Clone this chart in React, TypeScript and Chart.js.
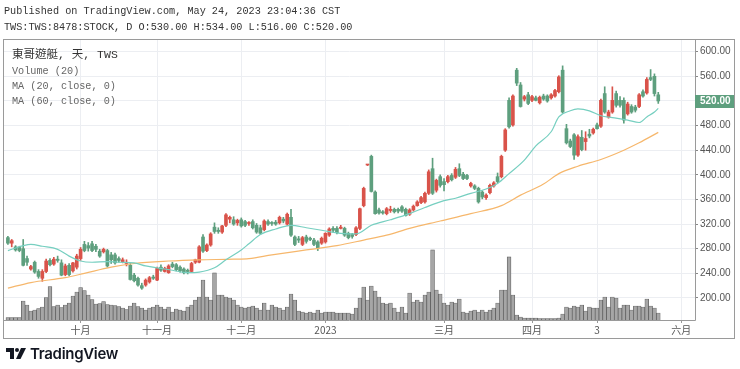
import React, { useEffect, useRef } from 'react';
import { Chart, registerables } from 'chart.js';

Chart.register(...registerables);

// Trading days (Sep 2022 – May 2023), one entry per candle
const sepDays = [5, 6, 7, 8, 12, 13, 14, 15, 16, 19, 20, 21, 22, 23, 26, 27, 28, 29, 30];
const octDays = [3, 4, 5, 6, 7, 11, 12, 13, 14, 17, 18, 19, 20, 21, 24, 25, 26, 27, 28, 31];
const novDays = [1, 2, 3, 4, 7, 8, 9, 10, 11, 14, 15, 16, 17, 18, 21, 22, 23, 24, 25, 28, 29, 30];
const decDays = [1, 2, 5, 6, 7, 8, 9, 12, 13, 14, 15, 16, 19, 20, 21, 22, 23, 26, 27, 28, 29, 30];
const janDays = [3, 4, 5, 6, 9, 10, 11, 12, 13, 16, 17, 30, 31];
const febDays = [1, 2, 3, 6, 7, 8, 9, 10, 13, 14, 15, 16, 17, 20, 21, 22, 23, 24];
const marDays = [1, 2, 3, 6, 7, 8, 9, 10, 13, 14, 15, 16, 17, 20, 21, 22, 23, 24, 27, 28, 29, 30, 31];
const aprDays = [6, 7, 10, 11, 12, 13, 14, 17, 18, 19, 20, 21, 24, 25, 26, 27, 28];
const mayDays = [2, 3, 4, 5, 8, 9, 10, 11, 12, 15, 16, 17, 18, 19, 22, 23, 24];

// [open, high, low, close]
const candles: number[][] = [
  [298, 300, 287, 289], [289, 295, 283, 293], [283, 285, 276, 278], [282, 284, 275, 277], [280, 295, 252, 253],
  [264, 268, 253, 258], [247, 253, 245, 251], [258, 260, 240, 242], [243, 246, 232, 235], [232, 246, 227, 243],
  [243, 263, 241, 260], [261, 264, 252, 254], [255, 266, 253, 263], [263, 268, 258, 261], [257, 262, 236, 237],
  [238, 255, 236, 252], [253, 256, 236, 238], [244, 258, 242, 257], [250, 271, 247, 268], [264, 282, 261, 279],
  [287, 292, 275, 277], [285, 290, 276, 281], [288, 292, 275, 277], [284, 287, 275, 279], [276, 279, 266, 268],
  [275, 281, 273, 279], [277, 279, 250, 252], [270, 274, 256, 262], [270, 273, 255, 257], [264, 267, 258, 261],
  [259, 265, 257, 262], [256, 262, 252, 258], [253, 256, 229, 230], [237, 240, 226, 228], [232, 234, 219, 221],
  [220, 224, 214, 216], [221, 231, 219, 229], [226, 235, 224, 233], [234, 237, 230, 232], [229, 250, 228, 248],
  [250, 254, 243, 245], [243, 250, 242, 248], [241, 254, 240, 252], [255, 258, 249, 251], [254, 256, 244, 246],
  [250, 252, 242, 244], [247, 249, 239, 241], [245, 247, 239, 243], [243, 258, 242, 256], [258, 263, 256, 262],
  [258, 285, 257, 283], [299, 303, 274, 276], [277, 288, 275, 286], [286, 306, 284, 304], [315, 322, 305, 308],
  [310, 314, 305, 308], [307, 318, 305, 317], [318, 337, 316, 335], [328, 333, 322, 331], [327, 332, 318, 320],
  [322, 328, 318, 326], [327, 330, 315, 317], [324, 326, 316, 318], [321, 324, 318, 322], [324, 327, 312, 314],
  [318, 321, 305, 307], [314, 318, 303, 305], [311, 327, 309, 325], [324, 327, 318, 320], [322, 324, 318, 321],
  [323, 326, 318, 320], [322, 333, 320, 331], [328, 331, 322, 325], [320, 338, 318, 336], [331, 344, 300, 302],
  [299, 301, 285, 287], [296, 300, 290, 294], [287, 300, 285, 298], [299, 302, 289, 292], [297, 299, 293, 295],
  [294, 297, 285, 287], [291, 293, 277, 281], [289, 299, 287, 297], [291, 306, 289, 305], [302, 314, 300, 312],
  [313, 316, 307, 310], [313, 316, 304, 306], [313, 318, 312, 315], [313, 315, 300, 302], [305, 307, 296, 298],
  [303, 305, 297, 300], [303, 316, 301, 314], [313, 346, 311, 345], [350, 380, 348, 378], [416, 417, 415, 416],
  [430, 432, 372, 373], [372, 374, 336, 337], [343, 346, 336, 338], [340, 342, 336, 338], [337, 347, 335, 345],
  [342, 349, 339, 344], [344, 346, 338, 340], [344, 346, 338, 341], [348, 350, 339, 341], [344, 346, 333, 334],
  [336, 345, 334, 343], [343, 351, 341, 349], [350, 358, 349, 356], [355, 365, 353, 363], [356, 372, 354, 370],
  [370, 408, 368, 405], [410, 427, 368, 370], [375, 393, 372, 391], [397, 400, 380, 383], [389, 394, 374, 384],
  [389, 399, 387, 397], [399, 402, 390, 392], [396, 412, 394, 409], [410, 418, 397, 399], [401, 404, 392, 394],
  [399, 401, 392, 394], [382, 388, 380, 386], [382, 384, 376, 378], [378, 380, 354, 356], [372, 374, 361, 364],
  [363, 369, 360, 367], [371, 385, 369, 383], [382, 389, 380, 387], [397, 403, 387, 389], [397, 432, 395, 430],
  [440, 475, 438, 473], [521, 525, 476, 478], [481, 530, 479, 528], [570, 573, 545, 549], [546, 550, 510, 511],
  [523, 529, 520, 527], [530, 534, 514, 516], [521, 529, 519, 527], [525, 528, 520, 521], [517, 528, 515, 526],
  [528, 531, 521, 523], [528, 530, 518, 520], [525, 532, 523, 530], [528, 539, 526, 537], [535, 561, 533, 559],
  [570, 577, 500, 502], [475, 482, 450, 452], [455, 458, 444, 446], [465, 467, 425, 432], [432, 465, 430, 462],
  [461, 472, 439, 441], [454, 470, 440, 459], [466, 474, 460, 463], [468, 476, 466, 474], [481, 484, 474, 475],
  [479, 523, 477, 521], [532, 543, 500, 502], [494, 505, 492, 502], [502, 543, 500, 521], [532, 536, 510, 513],
  [521, 527, 510, 513], [521, 525, 484, 489], [499, 518, 497, 515], [511, 514, 500, 502], [510, 513, 502, 505],
  [511, 532, 509, 530], [535, 538, 526, 528], [533, 558, 531, 555], [558, 571, 553, 555], [560, 564, 528, 532],
  [530, 534, 516, 520],
];

const volumes = [
  250, 250, 250, 250, 1900, 1500, 900, 1000, 1150, 1300, 2250, 3350, 1350, 1500, 1250, 1500, 1700, 2400, 2800, 3250,
  2950, 2500, 2050, 1600, 1650, 1850, 1550, 1500, 1450, 1350, 1200, 1050, 1400, 1700, 1350, 1200, 1000, 1200, 1300, 1500,
  1300, 1100, 1300, 800, 1100, 1000, 900, 1300, 1500, 2000, 2300, 4000, 2300, 2000, 4700, 2500, 2500, 2300, 2200, 2000,
  1500, 1300, 1200, 1300, 1400, 1200, 1000, 1700, 1000, 1500, 1300, 1200, 1000, 1300, 2600, 2000, 900, 800, 700, 800,
  700, 1000, 700, 800, 800, 800, 700, 700, 700, 700, 600, 1200, 2200, 3300, 2000, 3400, 2900, 2300, 1700, 1600,
  1700, 1200, 800, 1300, 700, 2700, 1800, 2000, 1800, 2500, 2800, 7000, 3000, 2600, 1700, 1500, 1800, 1700, 2100, 800,
  700, 900, 1000, 800, 1000, 800, 1000, 1200, 1700, 3000, 3000, 6300, 2500, 500, 300, 200, 200, 200, 200, 150,
  150, 150, 150, 150, 200, 600, 1300, 1200, 1400, 1300, 1500, 900, 1300, 1200, 1200, 2000, 2300, 1300, 2300, 2200,
  1200, 1500, 1500, 1000, 1400, 1400, 1300, 2100, 1400, 1200, 700,
];

// moving averages: [bar index, value]
const ma20Pts = [
  [0, 277], [6, 287], [9, 284], [13, 279], [16, 268], [19, 260], [22, 258], [26, 259], [29, 258], [33, 257],
  [36, 252], [40, 248], [43, 245], [47, 241], [50, 242], [54, 249], [57, 262], [61, 278], [63, 288], [66, 303],
  [70, 312], [74, 318], [78, 314], [82, 310], [87, 305], [91, 304], [95, 318], [100, 327], [105, 337], [109, 347],
  [114, 358], [117, 362], [121, 370], [125, 377], [128, 386], [131, 402], [135, 424], [138, 447], [142, 470],
  [144, 494], [147, 504], [149, 507], [152, 504], [155, 496], [158, 493], [162, 489], [165, 485], [167, 494],
  [169, 502], [170, 508],
];
const ma60Pts = [
  [0, 216], [6, 225], [15, 233], [20, 240], [27, 250], [33, 256], [42, 260], [50, 262], [59, 263], [63, 264],
  [69, 270], [78, 278], [86, 285], [93, 294], [99, 302], [105, 313], [113, 325], [121, 337], [129, 350],
  [134, 367], [140, 385], [144, 402], [149, 414], [155, 425], [161, 440], [165, 452], [170, 469],
];

const xTickIdx = [19, 39, 61, 83, 114, 137, 154, 176];
const xTickLabels = ['十月', '十一月', '十二月', '2023', '三月', '四月', '3', '六月'];
const yTicks = [200, 240, 280, 320, 360, 400, 440, 480, 520, 560, 600];

const UP = '#d9534a';
const DOWN = '#5e9f7e';
const MONO = '"Liberation Mono", "Noto Sans CJK TC", monospace';

export default function App() {
  const ref = useRef<HTMLCanvasElement>(null);

  useEffect(() => {
    const canvas = ref.current;
    if (!canvas) return;
    const dates = [
      ...sepDays.map((d) => `2022-09-${d}`), ...octDays.map((d) => `2022-10-${d}`),
      ...novDays.map((d) => `2022-11-${d}`), ...decDays.map((d) => `2022-12-${d}`),
      ...janDays.map((d) => `2023-01-${d}`), ...febDays.map((d) => `2023-02-${d}`),
      ...marDays.map((d) => `2023-03-${d}`), ...aprDays.map((d) => `2023-04-${d}`),
      ...mayDays.map((d) => `2023-05-${d}`),
    ];
    const colors = candles.map(([o, , , c]) => (c >= o ? UP : DOWN));
    const last = candles[candles.length - 1];

    const framePlugin = {
      id: 'frame',
      afterDraw(chart: any) {
        const ctx = chart.ctx;
        const a = chart.chartArea;
        ctx.save();
        ctx.strokeStyle = '#9a9a9a';
        ctx.lineWidth = 1;
        ctx.strokeRect(3.5, 39.5, 731, 299);
        ctx.beginPath();
        ctx.moveTo(Math.round(a.right) + 0.5, 39.5);
        ctx.lineTo(Math.round(a.right) + 0.5, Math.round(a.bottom) + 0.5);
        ctx.moveTo(3.5, Math.round(a.bottom) + 0.5);
        ctx.lineTo(Math.round(a.right) + 0.5, Math.round(a.bottom) + 0.5);
        ctx.stroke();
        // last price badge
        const y = chart.scales.y.getPixelForValue(last[3]);
        const col = last[3] >= last[0] ? UP : DOWN;
        ctx.fillStyle = col;
        ctx.fillRect(Math.round(a.right), Math.round(y) - 6, 734 - Math.round(a.right), 13);
        ctx.fillStyle = '#ffffff';
        ctx.font = 'bold 10px "Liberation Sans", Arial, sans-serif';
        ctx.textBaseline = 'middle';
        ctx.textAlign = 'left';
        ctx.fillText(last[3].toFixed(2), Math.round(a.right) + 5, Math.round(y) + 0.5);
        ctx.restore();
      },
    };

    const chart = new Chart(canvas, {
      type: 'bar',
      data: {
        labels: dates,
        datasets: [
          {
            type: 'line', label: 'MA (20, close, 0)', data: ma20Pts.map(([x, y]) => ({ x, y })),
            borderColor: '#76cfc0', borderWidth: 1.2, pointRadius: 0, cubicInterpolationMode: 'monotone',
            yAxisID: 'y', order: 1,
          },
          {
            type: 'line', label: 'MA (60, close, 0)', data: ma60Pts.map(([x, y]) => ({ x, y })),
            borderColor: '#f6b76c', borderWidth: 1.2, pointRadius: 0, cubicInterpolationMode: 'monotone',
            yAxisID: 'y', order: 2,
          },
          {
            type: 'bar', label: 'body', data: candles.map(([o, , , c], i) => ({ x: i, y: [o, c] })),
            backgroundColor: colors, barThickness: 3, minBarLength: 1, grouped: false, yAxisID: 'y', order: 3,
          },
          {
            type: 'bar', label: 'wick', data: candles.map(([, h, l], i) => ({ x: i, y: [l, h] })),
            backgroundColor: colors, barThickness: 1, grouped: false, yAxisID: 'y', order: 4,
          },
          {
            type: 'bar', label: 'Volume', data: volumes.map((v, i) => ({ x: i, y: v })),
            backgroundColor: '#a6a6a6', borderColor: '#5a5a5a', borderWidth: 0.7,
            barPercentage: 1, categoryPercentage: 1, grouped: false, yAxisID: 'yVol', order: 5,
          },
        ] as any,
      },
      options: {
        responsive: false,
        animation: false,
        devicePixelRatio: 1,
        layout: { padding: { left: 4, top: 39, right: 0, bottom: 31 } },
        plugins: { legend: { display: false }, tooltip: { enabled: false } },
        scales: {
          x: {
            type: 'linear', min: -1.02, max: 179.6, offset: false,
            afterBuildTicks: (s: any) => { s.ticks = xTickIdx.map((v) => ({ value: v })); },
            afterFit: (s: any) => { s.height = 18; },
            ticks: {
              autoSkip: false, maxRotation: 0, padding: 1, color: '#555',
              font: { family: '"Noto Sans CJK TC", "Liberation Sans", sans-serif', size: 10 },
              callback: (v: any) => { const k = xTickIdx.indexOf(Number(v)); return k >= 0 ? xTickLabels[k] : ''; },
            },
            grid: { color: '#eceef2', tickColor: '#999', tickLength: 3, offset: false },
            border: { display: false },
          },
          y: {
            position: 'right', min: 164.2, max: 620.65,
            afterBuildTicks: (s: any) => { s.ticks = yTicks.map((v) => ({ value: v })); },
            afterFit: (s: any) => { s.width = 45; },
            ticks: {
              padding: 2, color: '#555',
              font: { family: '"Liberation Sans", Arial, sans-serif', size: 10 },
              callback: (v: any) => Number(v).toFixed(2),
            },
            grid: { color: '#eceef2', tickColor: '#888', tickLength: 3 },
            border: { display: false },
          },
          yVol: { display: false, min: 0, max: Math.max(...volumes) * 4.01 },
        },
      } as any,
      plugins: [framePlugin],
    });
    return () => chart.destroy();
  }, []);

  const txt = (top: number, size: number, color: string, text: string, left = 4) => (
    <div style={{ position: 'absolute', left, top, fontFamily: MONO, fontSize: size, lineHeight: '12px', color, whiteSpace: 'pre' }}>{text}</div>
  );

  return (
    <div style={{ position: 'fixed', left: 0, top: 0, width: 740, height: 369, background: '#fff', overflow: 'hidden' }}>
      <canvas ref={ref} width={740} height={369} style={{ position: 'absolute', left: 0, top: 0, width: 740, height: 369 }} />
      {txt(6, 10.2, '#333', 'Published on TradingView.com, May 24, 2023 23:04:36 CST')}
      {txt(22, 10.2, '#333', 'TWS:TWS:8478:STOCK, D O:530.00 H:534.00 L:516.00 C:520.00')}
      {txt(49, 11.5, '#333', '東哥遊艇, 天, TWS', 12)}
      {txt(65.5, 10.2, '#666', 'Volume (20)', 12)}
      {txt(80.5, 10.2, '#666', 'MA (20, close, 0)', 12)}
      {txt(95.5, 10.2, '#666', 'MA (60, close, 0)', 12)}
      <div style={{ position: 'absolute', left: 6, top: 344, display: 'flex', alignItems: 'center', gap: 4 }}>
        <svg width="20" height="13" viewBox="0 0 20 13">
          <path d="M0 1h8v11h-4v-7h-4z" fill="#131722" />
          <circle cx="11" cy="3" r="2" fill="#131722" />
          <path d="M15 1h5l-5.5 11h-4.5z" fill="#131722" />
        </svg>
        <span style={{ fontFamily: 'Inter, "Liberation Sans", sans-serif', fontWeight: 600, fontSize: 15, color: '#131722', letterSpacing: '-0.3px' }}>TradingView</span>
      </div>
    </div>
  );
}
